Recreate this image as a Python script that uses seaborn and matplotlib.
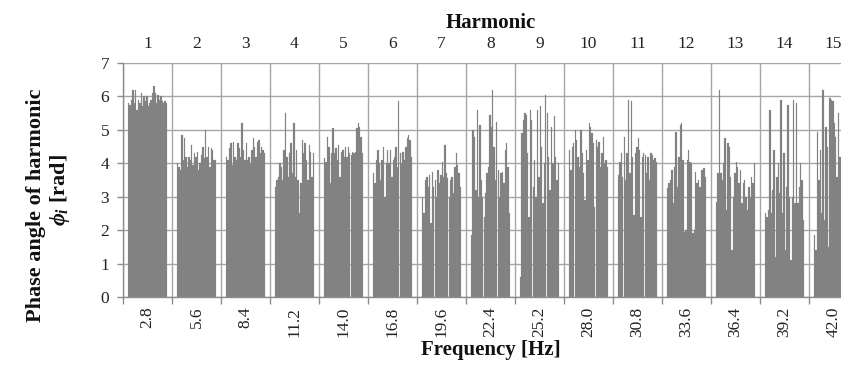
import numpy as np
import pandas as pd
import matplotlib
matplotlib.use("Agg")
import matplotlib.pyplot as plt
import seaborn as sns

# ---------------- data ----------------
harmonics = list(range(1, 16))
freq_labels = ["2.8", "5.6", "8.4", "11.2", "14.0", "16.8", "19.6", "22.4",
               "25.2", "28.0", "30.8", "33.6", "36.4", "39.2", "42.0"]

phase_h1 = [5.8, 5.75, 5.9, 6.2, 5.8, 6.2, 5.6, 5.9, 5.8, 6.1, 5.7, 6.0, 5.85, 6.0,
            5.7, 5.8, 5.9, 6.1, 6.3, 6.1, 5.8, 6.05, 5.9, 6.0, 5.85, 5.8, 5.85, 5.8]
phase_h2 = [4.0, 3.9, 3.8, 4.85, 4.1, 4.75, 4.2, 3.9, 4.2, 4.1, 4.55, 3.95, 4.3, 4.2,
            4.35, 3.8, 4.0, 4.25, 4.5, 4.15, 5.0, 4.2, 4.5, 3.9, 4.45, 4.4, 4.1, 4.1]
phase_h3 = [4.2, 4.1, 4.45, 4.6, 3.95, 4.65, 4.2, 4.1, 4.6, 4.45, 4.2, 5.2, 4.4, 4.1,
            4.6, 4.1, 4.2, 4.0, 4.4, 4.75, 4.5, 4.2, 4.65, 4.7, 4.3, 4.5, 4.4, 4.3]
phase_h4 = [3.3, 3.5, 3.6, 4.0, 3.9, 3.5, 4.4, 5.5, 4.2, 3.6, 4.3, 4.6, 3.7, 5.2,
            3.6, 4.4, 3.5, 2.5, 3.4, 4.7, 4.3, 4.6, 4.1, 3.5, 4.55, 4.35, 3.6, 4.3]
phase_h5 = [4.15, 4.05, 4.8, 4.5, 3.4, 4.3, 5.05, 4.3, 4.45, 4.1, 4.55, 3.6, 4.35, 4.4,
            4.2, 4.5, 4.2, 4.5, 4.3, 4.25, 4.35, 4.3, 4.35, 5.05, 5.2, 5.1, 4.8, 4.3]
phase_h6 = [3.7, 3.4, 4.1, 4.4, 4.0, 3.5, 4.1, 4.5, 3.0, 4.0, 4.4, 4.0, 4.4, 3.6,
            4.1, 4.2, 4.5, 3.9, 5.85, 4.3, 4.0, 4.35, 4.1, 4.5, 4.75, 4.85, 4.7, 4.2]
phase_h7 = [3.0, 2.5, 3.5, 3.6, 3.3, 3.65, 2.2, 3.75, 3.3, 3.5, 3.0, 3.8, 3.4, 3.65,
            4.05, 3.6, 4.55, 3.7, 3.55, 3.0, 3.5, 3.6, 3.1, 3.9, 4.3, 3.95, 3.7, 3.3]
phase_h8 = [1.85, 5.0, 4.8, 3.2, 5.6, 3.0, 5.15, 3.5, 3.0, 2.4, 3.1, 3.7, 3.9, 5.45,
            5.1, 6.2, 4.5, 3.5, 5.25, 3.8, 3.0, 3.7, 3.75, 3.4, 4.4, 4.6, 3.9, 2.5]
phase_h9 = [0.6, 4.9, 5.3, 5.5, 5.45, 4.3, 2.4, 5.6, 5.3, 3.3, 4.1, 3.0, 5.6, 3.6,
            5.7, 4.5, 2.8, 4.0, 6.05, 5.5, 4.2, 3.2, 5.1, 4.0, 5.4, 4.2, 3.5, 4.0]
phase_h10 = [4.4, 3.8, 4.5, 4.6, 5.0, 4.7, 4.2, 3.9, 5.0, 4.3, 3.7, 2.9, 4.4, 4.1,
             5.2, 5.1, 4.9, 4.6, 2.7, 4.7, 4.5, 4.65, 3.9, 4.3, 4.8, 4.0, 4.1, 3.9]
phase_h11 = [3.65, 4.05, 4.3, 3.6, 4.8, 3.5, 4.3, 5.9, 3.7, 5.85, 4.2, 2.45, 4.3, 4.5,
             4.75, 4.4, 2.4, 4.2, 4.3, 4.25, 3.7, 4.2, 3.5, 4.3, 4.25, 4.1, 4.15, 4.05]
phase_h12 = [3.25, 3.4, 3.5, 3.8, 2.8, 3.9, 4.95, 3.3, 4.2, 5.15, 5.2, 4.1, 1.95, 2.0,
             4.1, 4.4, 4.05, 4.0, 1.9, 2.0, 3.75, 3.4, 3.5, 3.3, 3.8, 3.8, 3.85, 3.6]
phase_h13 = [2.85, 3.7, 6.2, 3.7, 3.5, 4.0, 4.75, 2.6, 4.6, 4.5, 3.6, 1.4, 3.0, 3.7,
             4.05, 3.9, 3.4, 3.8, 2.8, 3.4, 3.5, 3.0, 2.6, 3.3, 3.0, 3.6, 3.4, 4.0]
phase_h14 = [2.5, 2.4, 2.6, 5.6, 2.5, 3.2, 4.4, 1.2, 3.6, 4.0, 3.1, 5.9, 2.5, 4.3,
             1.4, 3.3, 5.75, 3.0, 1.1, 3.0, 5.9, 2.8, 5.8, 2.8, 3.3, 4.0, 3.5, 2.3]
phase_h15 = [1.85, 1.4, 4.95, 3.5, 4.4, 2.5, 6.2, 2.3, 5.1, 4.5, 1.5, 5.95, 5.9, 5.85,
             5.2, 4.8, 3.6, 5.5, 4.2, 3.0, 5.0, 4.4, 3.8, 5.3, 4.1, 3.5, 4.6, 3.9]

phase_values = [phase_h1, phase_h2, phase_h3, phase_h4, phase_h5, phase_h6, phase_h7,
                phase_h8, phase_h9, phase_h10, phase_h11, phase_h12, phase_h13,
                phase_h14, phase_h15]

rows = []
for f, vals in zip(freq_labels, phase_values):
    for j, v in enumerate(vals):
        rows.append({"freq": f, "bin": f"b{j:02d}", "phase": v})
df = pd.DataFrame(rows)
bin_order = sorted(df["bin"].unique())

# ---------------- style ----------------
sns.set_theme(style="white")
plt.rcParams["font.family"] = ["Liberation Serif", "DejaVu Serif"]
plt.rcParams["mathtext.fontset"] = "custom"
plt.rcParams["mathtext.it"] = "Liberation Serif:italic:bold"
plt.rcParams["mathtext.rm"] = "Liberation Serif:bold"

grid_c = "#a6a6a6"
axis_c = "#8c8c8c"
bar_c = "#808080"

fig = plt.figure(figsize=(8.41, 3.65), dpi=100)
ax = fig.add_axes([123 / 841, 68 / 365, 735 / 841, 234 / 365])

sns.barplot(data=df, x="freq", y="phase", hue="bin", order=freq_labels,
            hue_order=bin_order, palette=[bar_c] * len(bin_order), legend=False,
            width=0.8, saturation=1, edgecolor="#8e8e8e", linewidth=0.15,
            errorbar=None, ax=ax)

ax.set_xlim(-0.5, len(freq_labels) - 0.5)
ax.set_ylim(0, 7)
ax.set_yticks(range(0, 8))
ax.set_xticks(np.arange(-0.5, len(freq_labels), 1), minor=True)
ax.set_xticks(range(len(freq_labels)))
ax.set_xticklabels(freq_labels, rotation=90)

ax.set_axisbelow(True)
ax.grid(which="minor", axis="x", color=grid_c, lw=1.0)
ax.grid(which="major", axis="y", color=grid_c, lw=1.0)
ax.grid(which="major", axis="x", visible=False)

for s in ["top", "right"]:
    ax.spines[s].set_visible(False)
for s in ["left", "bottom"]:
    ax.spines[s].set_color(axis_c)
    ax.spines[s].set_linewidth(1.0)

ax.tick_params(axis="x", which="major", length=0, pad=7, labelsize=12.5, colors="#222222")
ax.tick_params(axis="x", which="minor", length=5, width=1, color=axis_c, bottom=True)
ax.tick_params(axis="y", length=4, width=1, color=axis_c, pad=6, labelsize=12.5,
               labelcolor="#222222", left=True)

ax.set_xlabel("Frequency [Hz]", fontsize=15, fontweight="bold", labelpad=2, color="#111111")
ax.set_ylabel("")

sec = ax.secondary_xaxis("top")
sec.set_xticks(range(len(harmonics)))
sec.set_xticklabels([str(h) for h in harmonics])
sec.tick_params(length=0, pad=8, labelsize=12.5, colors="#222222")
sec.spines["top"].set_visible(False)
sec.set_xlabel("Harmonic", fontsize=15, fontweight="bold", labelpad=6, color="#111111")

fig.text(36 / 841, 1 - 205 / 365, "Phase angle of harmonic", rotation=90,
         ha="center", va="center", fontsize=16, fontweight="bold", color="#111111")
fig.text(60 / 841, 1 - 190 / 365, r"$\phi_i$ [rad]", rotation=90,
         ha="center", va="center", fontsize=16, fontweight="bold", color="#111111")

fig.savefig("out.png", dpi=100)
